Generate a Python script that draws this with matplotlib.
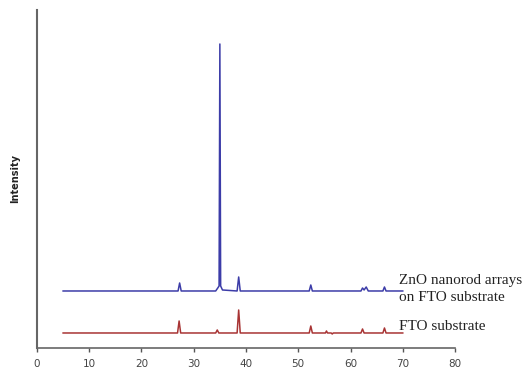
# XRD patterns: ZnO nanorod arrays on FTO vs bare FTO substrate
import matplotlib
matplotlib.use("Agg")
import matplotlib.pyplot as plt

# 2-theta / intensity points (arbitrary units)
zno_2theta = [5, 27.0, 27.3, 27.6, 34.2, 34.6, 34.85, 35.0, 35.15, 35.5,
              38.3, 38.6, 38.9, 52.1, 52.4, 52.7, 62.0, 62.3, 62.6, 63.0, 63.4,
              66.2, 66.5, 66.8, 70]
zno_counts = [0, 0, 8, 0, 0, 3, 5, 247, 5, 1,
              0, 14, 0, 0, 6, 0, 0, 3, 1, 4, 0,
              0, 4, 0, 0]

fto_2theta = [5, 26.9, 27.2, 27.5, 34.2, 34.5, 34.8, 38.3, 38.6, 38.9,
              52.1, 52.4, 52.7, 55.2, 55.4, 55.6, 56.3, 56.5, 56.7,
              62.0, 62.3, 62.6, 66.2, 66.5, 66.8, 70]
fto_counts = [0, 0, 12, 0, 0, 3, 0, 0, 23, 0,
              0, 7, 0, 0, 2, 0, 0, -1, 0,
              0, 4, 0, 0, 5, 0, 0]

zno_offset = 57
fto_offset = 15

xticks = [0, 10, 20, 30, 40, 50, 60, 70, 80]

fig = plt.figure(figsize=(5.23, 3.70), dpi=100)
ax = fig.add_axes([0.0707, 0.0595, 0.7993, 0.9135])

ax.plot(zno_2theta, [c + zno_offset for c in zno_counts], color="#3c3ca8", lw=1.1)
ax.plot(fto_2theta, [c + fto_offset for c in fto_counts], color="#a83434", lw=1.1)

ax.text(69.3, 59, "ZnO nanorod arrays\non FTO substrate",
        family="Liberation Serif", fontsize=11, color="#222222",
        ha="left", va="center", linespacing=1.45)
ax.text(69.3, 21, "FTO substrate", family="Liberation Serif", fontsize=11,
        color="#222222", ha="left", va="center")

ax.set_xlim(0, 80)
ax.set_ylim(0, 338)
ax.set_xticks(xticks)
ax.set_yticks([])
ax.tick_params(axis="x", direction="out", length=3, width=1, color="#555555",
               labelsize=7.5, labelcolor="#444444", pad=5)
for s in ["top", "right"]:
    ax.spines[s].set_visible(False)
ax.spines["left"].set_color("#666666")
ax.spines["left"].set_linewidth(1.5)
ax.spines["bottom"].set_color("#666666")
ax.spines["bottom"].set_linewidth(1.2)
ax.set_ylabel("Intensity", fontsize=7, fontweight="bold", color="#222222", labelpad=12)

fig.savefig("out.png", dpi=100)
